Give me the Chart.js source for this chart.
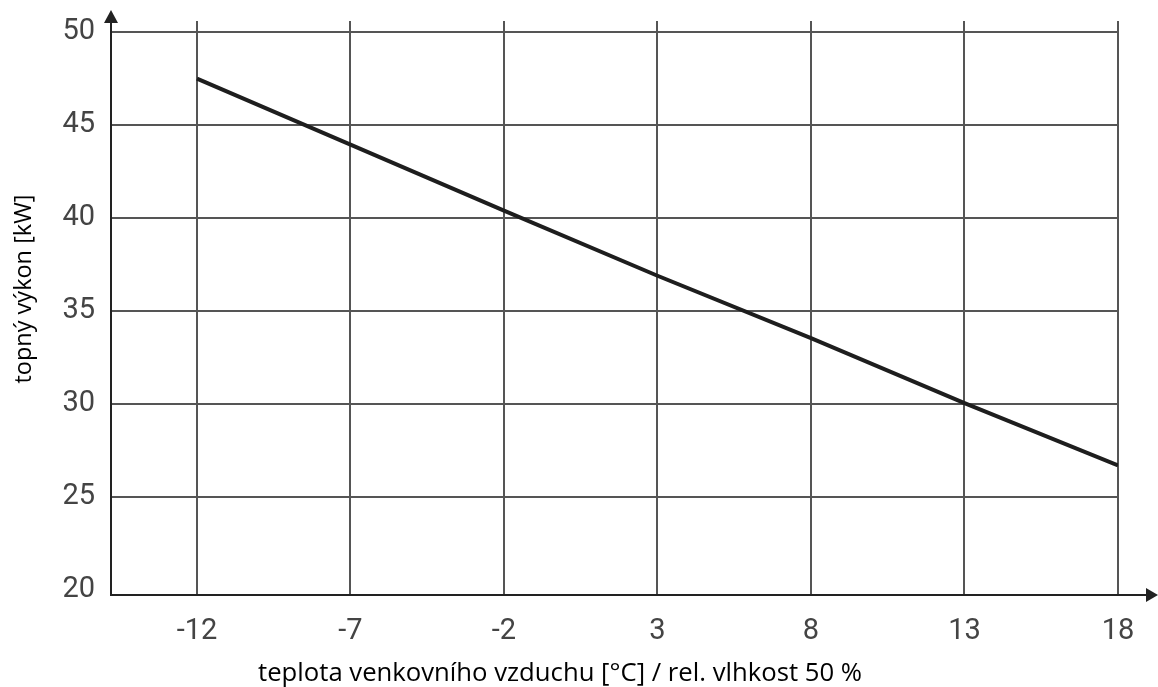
<!DOCTYPE html>
<html>
<head>
<meta charset="utf-8">
<script src="https://cdn.jsdelivr.net/npm/chart.js@4/dist/chart.umd.min.js"></script>
<style>
  body { margin: 0; background: #fff; }
  canvas { display: block; }
</style>
</head>
<body>
<canvas id="powerChart" width="1158" height="687"></canvas>
<script>
// outdoor air temperature [°C]
const temps = [-12, -7, -2, 3, 8, 13, 18];
// heating output [kW]
const power = [47.5, 43.95, 40.4, 36.9, 33.55, 30.05, 26.7];
const yTicks = [20, 25, 30, 35, 40, 45, 50];

const xTitle = 'teplota venkovního vzduchu [°C] / rel. vlhkost 50 %';
const yTitle = 'topný výkon [kW]';

// axis arrows + titles (titles are off-centre in the original)
const decor = {
    id: 'decor',
    afterDraw(chart) {
        const c = chart.ctx;
        const a = chart.chartArea;
        c.save();
        c.strokeStyle = '#222';
        c.fillStyle = '#222';
        c.lineWidth = 2;
        // x axis line past the plot + arrow
        c.beginPath();
        c.moveTo(a.left, a.bottom);
        c.lineTo(1150, a.bottom);
        c.stroke();
        c.beginPath();
        c.moveTo(1158, a.bottom);
        c.lineTo(1146, a.bottom - 7);
        c.lineTo(1146, a.bottom + 7);
        c.closePath();
        c.fill();
        // y axis line up to the arrow
        c.beginPath();
        c.moveTo(a.left, a.top);
        c.lineTo(a.left, 20);
        c.stroke();
        c.beginPath();
        c.moveTo(a.left, 10);
        c.lineTo(a.left - 7, 23);
        c.lineTo(a.left + 7, 23);
        c.closePath();
        c.fill();

        c.fillStyle = '#000';
        c.textAlign = 'center';
        c.textBaseline = 'middle';
        c.font = '25.7px "Open Sans", "Liberation Sans", sans-serif';
        c.fillText(xTitle, 560, 674);
        c.font = '23.5px "Open Sans", "Liberation Sans", sans-serif';
        c.translate(24, 289);
        c.rotate(-Math.PI / 2);
        c.fillText(yTitle, 0, 0);
        c.restore();
    }
};

const tickFont = { family: 'Roboto', weight: 400, size: 29 };

const ctx = document.getElementById('powerChart').getContext('2d');
const powerChart = new Chart(ctx, {
    type: 'scatter',
    data: {
        datasets: [{
            data: temps.map((t, i) => ({ x: t, y: power[i] })),
            showLine: true,
            borderColor: '#1e1e1e',
            borderWidth: 4,
            pointRadius: 0,
            tension: 0
        }]
    },
    options: {
        responsive: false,
        animation: false,
        layout: { padding: { left: 0, top: 21, right: 40, bottom: 0 } },
        plugins: {
            legend: { display: false },
            tooltip: { enabled: false }
        },
        scales: {
            x: {
                type: 'linear',
                min: -14.8,
                max: 18,
                afterBuildTicks: s => { s.ticks = temps.map(v => ({ value: v })); },
                afterFit: s => { s.height = 92; s.paddingLeft = 0; s.paddingRight = 0; },
                grid: { color: '#555', lineWidth: 2, drawTicks: false },
                border: { color: '#222', width: 2 },
                ticks: { padding: 19, color: '#444', font: tickFont }
            },
            y: {
                min: 19.73,
                max: 50.6,
                afterBuildTicks: s => { s.ticks = yTicks.map(v => ({ value: v })); },
                afterFit: s => { s.width = 111; s.paddingTop = 0; s.paddingBottom = 0; },
                grid: {
                    color: c => (c.tick && c.tick.value === 20) ? 'rgba(0,0,0,0)' : '#555',
                    lineWidth: 2,
                    drawTicks: false
                },
                border: { color: '#222', width: 2 },
                ticks: { padding: 16, color: '#444', font: tickFont }
            }
        }
    },
    plugins: [decor]
});
</script>
</body>
</html>
